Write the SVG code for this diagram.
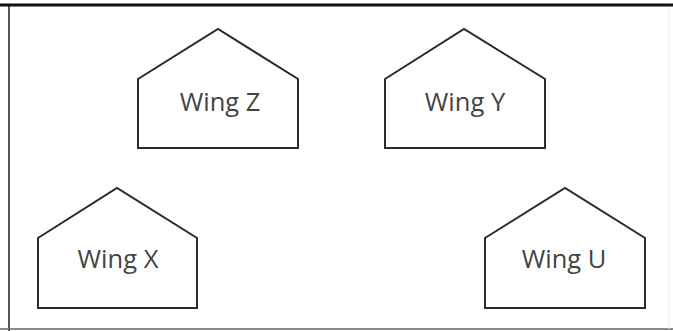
<svg xmlns="http://www.w3.org/2000/svg" width="673" height="331" viewBox="0 0 673 331">
<style>
.house{fill:#fff;stroke:#2a2a2a;stroke-width:2;stroke-linejoin:miter}
.lbl{font-family:"Open Sans","Noto Sans",sans-serif;font-size:25.5px;fill:#444;text-anchor:middle}
</style>
<rect width="673" height="331" fill="#fff"/>
<g id="frame">
<line x1="9" y1="5" x2="9" y2="331" stroke="#555" stroke-width="2"/>
<line x1="0" y1="329" x2="673" y2="329" stroke="#666" stroke-width="1.5"/>
<line x1="669" y1="6" x2="669" y2="329" stroke="#eee" stroke-width="1"/>
<line x1="0" y1="5" x2="673" y2="5" stroke="#111" stroke-width="3"/>
</g>
<g id="wingZ">
<path class="house" d="M138,79 L218,29 L298,79 L298,148 L138,148 Z"/>
<text class="lbl" x="220" y="111">Wing Z</text>
</g>
<g id="wingY">
<path class="house" d="M385,79 L464,29 L545,79 L545,148 L385,148 Z"/>
<text class="lbl" x="465" y="111">Wing Y</text>
</g>
<g id="wingX">
<path class="house" d="M38,238 L117,188 L197,238 L197,308 L38,308 Z"/>
<text class="lbl" x="118" y="268">Wing X</text>
</g>
<g id="wingU">
<path class="house" d="M485,238 L565,188 L645,238 L645,308 L485,308 Z"/>
<text class="lbl" x="564" y="268">Wing U</text>
</g>
<g id="connectors"/>
</svg>
